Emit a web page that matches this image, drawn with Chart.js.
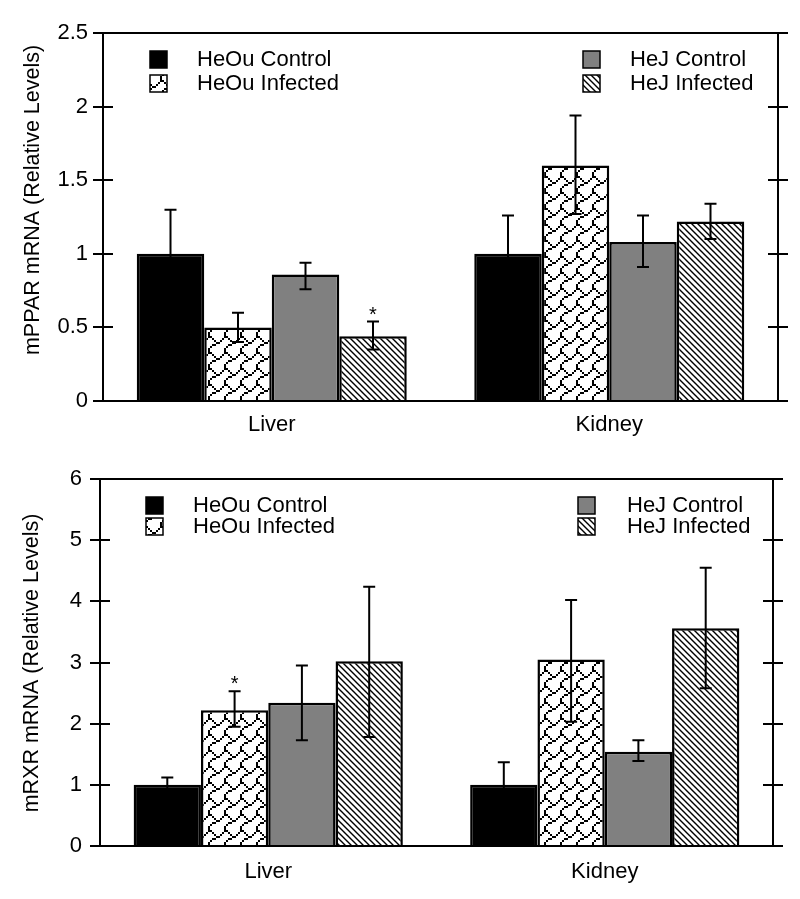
<!DOCTYPE html>
<html lang="en">
<head>
<meta charset="UTF-8">
<title>mPPAR / mRXR mRNA</title>
<script src="https://cdn.jsdelivr.net/npm/chart.js@4.4.1/dist/chart.umd.min.js"></script>
<style>
body {margin:0; background:#fff;}
.box {position:absolute; left:0; width:800px;}
#topBox {top:0; height:446px;}
#botBox {top:446px; height:453px;}
</style>
</head>
<body>
<div class="box" id="topBox"><canvas id="chartPPAR"></canvas></div>
<div class="box" id="botBox"><canvas id="chartRXR"></canvas></div>

<script>
// categories and series
const categories = ['Liver', 'Kidney'];
const seriesNames = ['HeOu Control', 'HeOu Infected', 'HeJ Control', 'HeJ Infected'];

// mPPAR (top chart)
const pparHeOuControl  = [1.00, 1.00];
const pparHeOuInfected = [0.50, 1.60];
const pparHeJControl   = [0.86, 1.08];
const pparHeJInfected  = [0.44, 1.22];
// error bars [low, high] per category
const pparHeOuControlErr  = [[0.70, 1.30], [0.74, 1.26]];
const pparHeOuInfectedErr = [[0.40, 0.60], [1.27, 1.94]];
const pparHeJControlErr   = [[0.76, 0.94], [0.91, 1.26]];
const pparHeJInfectedErr  = [[0.35, 0.54], [1.10, 1.34]];
const pparTicks = [0, 0.5, 1, 1.5, 2, 2.5];
const pparStars = [[3, 0]];   // [series, category]

// mRXR (bottom chart)
const rxrHeOuControl  = [1.00, 1.00];
const rxrHeOuInfected = [2.22, 3.05];
const rxrHeJControl   = [2.34, 1.54];
const rxrHeJInfected  = [3.02, 3.56];
const rxrHeOuControlErr  = [[0.88, 1.12], [0.63, 1.37]];
const rxrHeOuInfectedErr = [[1.95, 2.53], [2.03, 4.02]];
const rxrHeJControlErr   = [[1.73, 2.95], [1.39, 1.73]];
const rxrHeJInfectedErr  = [[1.78, 4.24], [2.58, 4.55]];
const rxrTicks = [0, 1, 2, 3, 4, 5, 6];
const rxrStars = [[1, 0]];

const FONT = 'Liberation Sans';

// fill patterns
function stripePattern() {
  const s = 6;
  const c = document.createElement('canvas');
  c.width = s; c.height = s;
  const g = c.getContext('2d');
  g.fillStyle = '#fff'; g.fillRect(0, 0, s, s);
  g.strokeStyle = '#000'; g.lineWidth = 1.4;
  g.beginPath();
  g.moveTo(-1, -1); g.lineTo(s + 1, s + 1);
  g.moveTo(-1, s - 1); g.lineTo(1, s + 1);
  g.moveTo(s - 1, -1); g.lineTo(s + 1, 1);
  g.stroke();
  return g.createPattern(c, 'repeat');
}

// 8x8 "shingle" hatch bitmap, drawn at 2x
function shinglePattern() {
  const bits = [0x03, 0x84, 0x48, 0x30, 0x0c, 0x02, 0x01, 0x01];
  const k = 2;
  const c = document.createElement('canvas');
  c.width = 8 * k; c.height = 8 * k;
  const g = c.getContext('2d');
  g.fillStyle = '#fff'; g.fillRect(0, 0, c.width, c.height);
  g.fillStyle = '#000';
  bits.forEach((b, row) => {
    for (let col = 0; col < 8; col++) {
      if (b & (1 << col)) g.fillRect(col * k, row * k, k, k);
    }
  });
  return g.createPattern(c, 'repeat');
}

const fills = ['#000000', shinglePattern(), '#808080', stripePattern()];

// frame: box around plot + ticks crossing both vertical axes
const framePlugin = {
  id: 'frame',
  afterDatasetsDraw(chart) {
    const {ctx, chartArea: a, scales: {y}} = chart;
    ctx.save();
    ctx.strokeStyle = '#000';
    ctx.lineWidth = 2;
    ctx.beginPath();
    ctx.moveTo(a.left, a.top); ctx.lineTo(a.right, a.top);
    ctx.moveTo(a.left, a.bottom); ctx.lineTo(a.right, a.bottom);
    ctx.moveTo(a.left, a.top); ctx.lineTo(a.left, a.bottom);
    ctx.moveTo(a.right, a.top); ctx.lineTo(a.right, a.bottom);
    y.ticks.forEach(t => {
      const py = Math.round(y.getPixelForValue(t.value));
      ctx.moveTo(a.left - 10, py); ctx.lineTo(a.left + 10, py);
      ctx.moveTo(a.right - 10, py); ctx.lineTo(a.right + 10, py);
    });
    ctx.stroke();
    ctx.restore();
  }
};

// error bars and significance stars
const errorPlugin = {
  id: 'errbars',
  afterDatasetsDraw(chart, args, opts) {
    const {ctx, scales: {y}} = chart;
    ctx.save();
    ctx.strokeStyle = '#000';
    ctx.lineWidth = 2;
    opts.errors.forEach((errs, i) => {
      const meta = chart.getDatasetMeta(i);
      errs.forEach((e, j) => {
        const x = meta.data[j].x;
        const lo = y.getPixelForValue(e[0]);
        const hi = y.getPixelForValue(e[1]);
        ctx.beginPath();
        ctx.moveTo(x, lo); ctx.lineTo(x, hi);
        ctx.moveTo(x - 6, lo); ctx.lineTo(x + 6, lo);
        ctx.moveTo(x - 6, hi); ctx.lineTo(x + 6, hi);
        ctx.stroke();
      });
    });
    ctx.fillStyle = '#000';
    ctx.font = '20px ' + FONT;
    ctx.textAlign = 'center';
    ctx.textBaseline = 'alphabetic';
    opts.stars.forEach(([i, j]) => {
      const x = chart.getDatasetMeta(i).data[j].x;
      const hi = y.getPixelForValue(opts.errors[i][j][1]);
      ctx.fillText('*', x, hi - 1);
    });
    ctx.restore();
  }
};

// legend in two columns and rotated y title
const decorPlugin = {
  id: 'decor',
  afterDraw(chart, args, opts) {
    const {ctx} = chart;
    ctx.save();
    ctx.font = '22px ' + FONT;
    ctx.textBaseline = 'middle';
    ctx.textAlign = 'left';
    opts.items.forEach(it => {
      const ds = chart.data.datasets[it.series];
      ctx.fillStyle = ds.backgroundColor;
      ctx.fillRect(it.bx, it.y - 8, 17, 17);
      ctx.strokeStyle = '#000';
      ctx.lineWidth = 1.5;
      ctx.strokeRect(it.bx, it.y - 8, 17, 17);
      ctx.fillStyle = '#000';
      ctx.fillText(ds.label, it.tx, it.y + 1);
    });
    ctx.font = '21.5px ' + FONT;
    ctx.translate(opts.titleX, opts.titleY);
    ctx.rotate(-Math.PI / 2);
    ctx.textAlign = 'center';
    ctx.fillText(opts.title, 0, 0);
    ctx.restore();
  }
};

function makeChart(id, values, errors, ticks, stars, title, L) {
  return new Chart(document.getElementById(id), {
    type: 'bar',
    data: {
      labels: categories,
      datasets: values.map((v, i) => ({
        label: seriesNames[i],
        data: v,
        backgroundColor: fills[i],
        borderColor: '#000',
        borderWidth: 2.5,
        categoryPercentage: 0.8,
        barPercentage: 1.0
      }))
    },
    options: {
      responsive: true,
      maintainAspectRatio: false,
      animation: false,
      devicePixelRatio: 1,
      layout: {padding: {top: 33, right: L.right, left: 0, bottom: 0}},
      plugins: {
        legend: {display: false},
        tooltip: {enabled: false},
        errbars: {errors: errors, stars: stars},
        decor: {items: L.items, title: title, titleX: L.titleX, titleY: L.titleY}
      },
      scales: {
        x: {
          grid: {display: false},
          border: {display: false},
          ticks: {color: '#000', font: {family: FONT, size: 22}, padding: L.xPad},
          afterFit(s) { s.height = L.xHeight; }
        },
        y: {
          min: ticks[0],
          max: ticks[ticks.length - 1],
          afterBuildTicks(s) { s.ticks = ticks.map(v => ({value: v})); },
          grid: {display: false},
          border: {display: false},
          ticks: {color: '#000', font: {family: FONT, size: 22}, padding: L.yPad,
                  callback: v => String(v)},
          afterFit(s) { s.width = L.left; }
        }
      }
    },
    plugins: [framePlugin, errorPlugin, decorPlugin]
  });
}

makeChart('chartPPAR',
  [pparHeOuControl, pparHeOuInfected, pparHeJControl, pparHeJInfected],
  [pparHeOuControlErr, pparHeOuInfectedErr, pparHeJControlErr, pparHeJInfectedErr],
  pparTicks, pparStars, 'mPPAR mRNA (Relative Levels)',
  {left: 103, right: 22, xHeight: 45, xPad: 3, yPad: 7, titleX: 33, titleY: 200,
   items: [
     {series: 0, bx: 150, tx: 197, y: 59},
     {series: 1, bx: 150, tx: 197, y: 83},
     {series: 2, bx: 583, tx: 630, y: 59},
     {series: 3, bx: 583, tx: 630, y: 83}
   ]});

makeChart('chartRXR',
  [rxrHeOuControl, rxrHeOuInfected, rxrHeJControl, rxrHeJInfected],
  [rxrHeOuControlErr, rxrHeOuInfectedErr, rxrHeJControlErr, rxrHeJInfectedErr],
  rxrTicks, rxrStars, 'mRXR mRNA (Relative Levels)',
  {left: 100, right: 27, xHeight: 53, xPad: 5, yPad: 10, titleX: 32, titleY: 217,
   items: [
     {series: 0, bx: 146, tx: 193, y: 59},
     {series: 1, bx: 146, tx: 193, y: 80},
     {series: 2, bx: 578, tx: 627, y: 59},
     {series: 3, bx: 578, tx: 627, y: 80}
   ]});
</script>
</body>
</html>
